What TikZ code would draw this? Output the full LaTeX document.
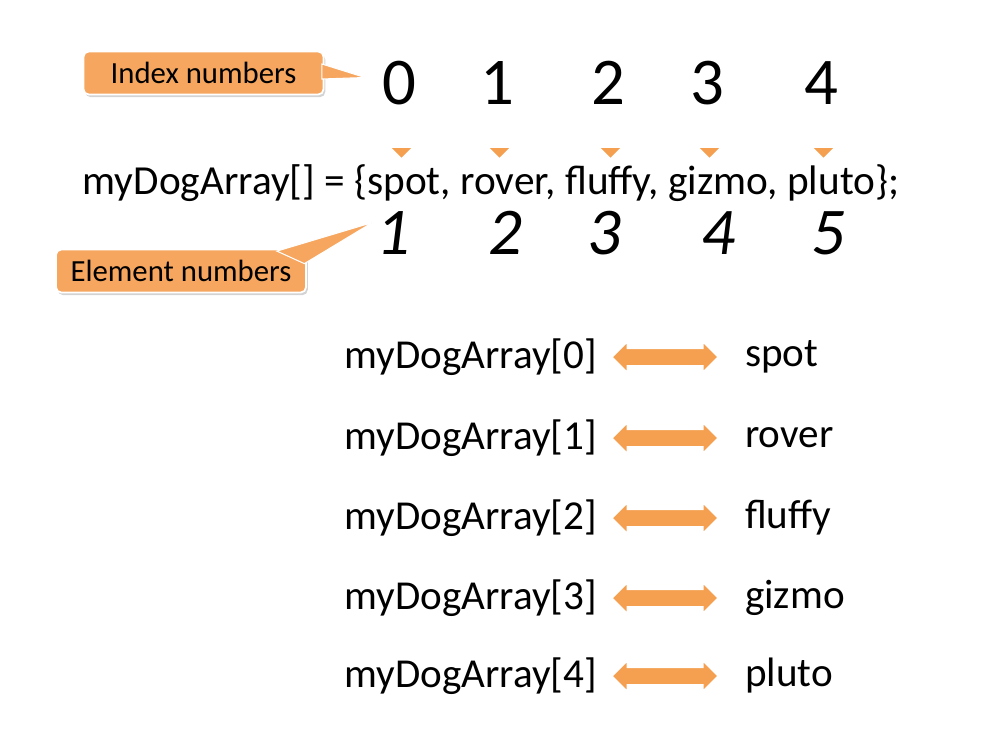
\documentclass[tikz,border=0pt]{standalone}
\usepackage{fontspec}
\setmainfont{Carlito}
\usetikzlibrary{positioning,calc,shapes.arrows,shadows}
\definecolor{callout_orange}{RGB}{246,166,94}
\definecolor{arrow_orange}{RGB}{245,160,80}
\tikzset{
  labelbox/.style={fill=callout_orange, draw=white, line width=1pt, rounded corners=3pt,
    minimum width=4.8cm, minimum height=0.86cm, font=\fontsize{17.5}{19}\selectfont,
    drop shadow={opacity=0.35, shadow xshift=1pt, shadow yshift=-1.5pt}},
  pointer/.style={fill=callout_orange, draw=white, line width=0.6pt},
  idxnum/.style={font=\fontsize{38}{40}\selectfont},
  elnum/.style={font=\fontsize{38}{40}\selectfont\itshape},
  downarrow/.style={single arrow, fill=arrow_orange, draw=white, line width=0.8pt,
    shape border rotate=270, inner xsep=0pt, inner ysep=0.18cm, single arrow head extend=0.22cm,
    minimum height=0.82cm},
  bothways/.style={double arrow, fill=arrow_orange, draw=white, line width=0.8pt,
    inner xsep=0pt, inner ysep=0.16cm, double arrow head extend=0.13cm, minimum height=2.12cm},
  listtext/.style={font=\fontsize{23.4}{25}\selectfont}
}
\begin{document}
\begin{tikzpicture}
  \useasboundingbox (0,0) rectangle (19.96,-14.6);
  % index and element numbers
  \foreach \n/\x in {0/7.98,1/9.94,2/12.16,3/14.14,4/16.42} {
    \node[idxnum] (idx\n) at (\x,-1.66) {\n};
    \node[downarrow] (arr\n) at (\x+0.05,-2.76) {};
  }
  \foreach \n/\x in {1/7.86,2/10.1,3/12.08,4/14.36,5/16.56} {
    \node[elnum] (el\n) at (\x,-4.66) {\n};
  }
  \node[font=\fontsize{23.5}{25}\selectfont] (decl) at (9.82,-3.66)
    {myDogArray[] = \{spot, rover, fluffy, gizmo, pluto\};};
  % callouts
  \coordinate (idxtip) at (7.3,-1.55);
  \coordinate (eltip) at (7.45,-4.45);
  \node[labelbox] (idxbox) at (4.07,-1.46) {Index numbers};
  \fill[pointer] ($(idxbox.east)+(-0.05,0.18)$) -- (idxtip) -- ($(idxbox.east)+(-0.05,-0.12)$) -- cycle;
  \node[labelbox, minimum width=5.0cm] (elbox) at (3.62,-5.42) {Element numbers};
  \fill[pointer] ($(elbox.north east)+(-0.6,-0.05)$) -- (eltip) -- ($(elbox.north east)+(-0.05,-0.3)$) -- cycle;
  % element list
  \foreach \i/\name/\y in {0/spot/7.14,1/rover/8.76,2/fluffy/10.36,3/gizmo/11.96,4/pluto/13.52} {
    \node[listtext, anchor=east] (ref\i) at (12.06,-\y) {myDogArray[\i]};
    \node[bothways] (link\i) at (13.3,-\y) {};
    \node[listtext, anchor=west] (val\i) at (14.78,-\y) {\name};
  }
\end{tikzpicture}
\end{document}
